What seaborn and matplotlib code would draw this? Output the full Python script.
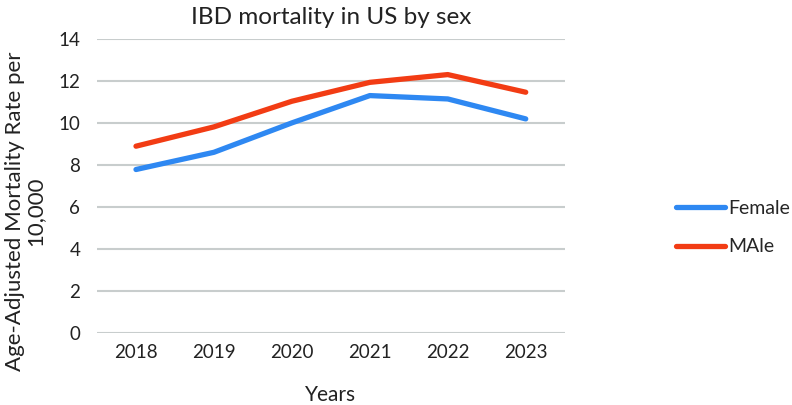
import matplotlib
matplotlib.use("Agg")
import matplotlib.pyplot as plt
import seaborn as sns
import pandas as pd

years = ["2018", "2019", "2020", "2021", "2022", "2023"]
female = [7.78, 8.60, 10.0, 11.30, 11.14, 10.19]
male = [8.89, 9.81, 11.03, 11.93, 12.30, 11.46]
series_names = ["Female", "MAle"]
yticks = [0, 2, 4, 6, 8, 10, 12, 14]

df = pd.DataFrame({
    "Year": years * 2,
    "Rate": female + male,
    "Sex": [series_names[0]] * len(years) + [series_names[1]] * len(years),
})

sns.set_theme(style="white")
plt.rcParams["font.family"] = ["Lato", "DejaVu Sans"]

fig = plt.figure(figsize=(7.92, 4.05), dpi=100)
ax = fig.add_axes([0.1225, 0.178, 0.5905, 0.726])

palette = {"Female": "#2E88F2", "MAle": "#F23C14"}
sns.lineplot(data=df, x="Year", y="Rate", hue="Sex", palette=palette,
             linewidth=3.8, ax=ax, sort=False, solid_capstyle="round")

ax.set_xlim(-0.5, len(years) - 0.5)
ax.set_ylim(0, 14)
ax.set_yticks(yticks)
ax.set_yticklabels([str(v) for v in yticks], fontsize=13.5, color="#222222")
ax.tick_params(axis="x", labelsize=13.5, labelcolor="#222222", length=0, pad=8)
ax.tick_params(axis="y", length=0, pad=12)
ax.yaxis.grid(True, color="#C8CDCD", linewidth=1.5)
ax.set_axisbelow(True)
for s in ax.spines.values():
    s.set_visible(False)

ax.set_xlabel("Years", fontsize=15, color="#222222", labelpad=17)
ax.set_ylabel("Age-Adjusted Mortality Rate per\n10,000", fontsize=16,
              color="#222222", linespacing=1.0, va="center")
ax.yaxis.set_label_coords(-0.154, 0.415)
ax.set_title("IBD mortality in US by sex", fontsize=17.5, color="#222222", pad=11)

leg = ax.legend(loc="center left", bbox_to_anchor=(1.2375, 0.358), frameon=False,
                fontsize=14, handlelength=2.55, labelspacing=1.1, handletextpad=0.15,
                borderpad=0, borderaxespad=0)
for line in leg.get_lines():
    line.set_linewidth(3.8)
    line.set_solid_capstyle("round")

fig.savefig("out.png", dpi=100)
